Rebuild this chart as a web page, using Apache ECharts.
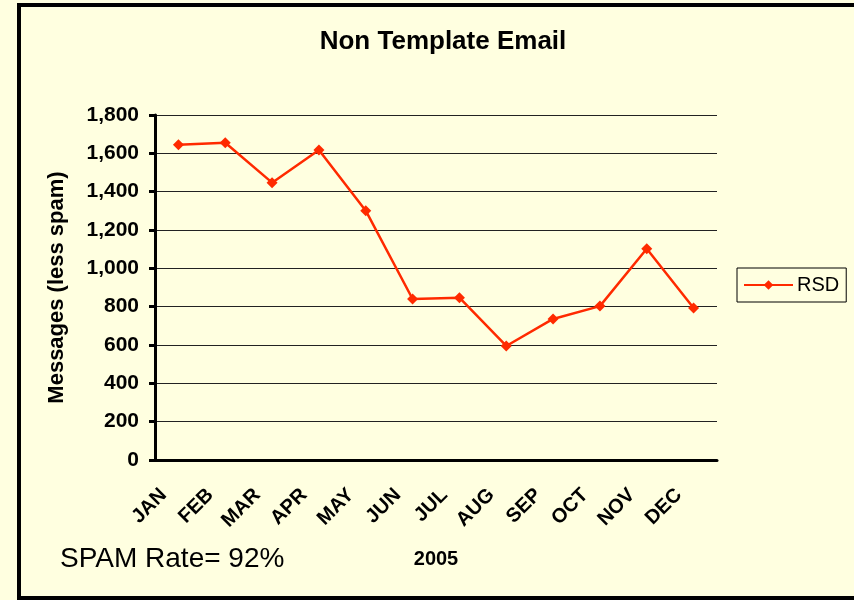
<!DOCTYPE html>
<html>
<head>
<meta charset="utf-8">
<script src="https://cdn.jsdelivr.net/npm/echarts@6/dist/echarts.min.js"></script>
<style>
  html, body { margin: 0; padding: 0; background: #FFFFE0; }
  #main { width: 854px; height: 600px; }
</style>
</head>
<body>
<div id="main"></div>
<script>
// 2005 monthly counts
var months = ['JAN', 'FEB', 'MAR', 'APR', 'MAY', 'JUN', 'JUL', 'AUG', 'SEP', 'OCT', 'NOV', 'DEC']
var rsd = [1645, 1655, 1447, 1617, 1301, 840, 847, 595, 736, 803, 1102, 793]

var chart = echarts.init(document.getElementById('main'))
chart.setOption({
  backgroundColor: '#FFFFE0',
  textStyle: { fontFamily: 'Liberation Sans, Arial, sans-serif' },
  title: {
    text: 'Non Template Email',
    left: 438,
    top: 24,
    textAlign: 'center',
    textStyle: { fontSize: 26, fontWeight: 'bold', color: '#000' }
  },
  legend: {
    left: 737,
    top: 268,
    orient: 'vertical',
    padding: [7, 7, 7, 6],
    borderColor: '#000',
    borderWidth: 1,
    itemWidth: 49,
    itemHeight: 12,
    itemGap: 4,
    textStyle: { fontSize: 20, color: '#000', padding: [0, 0, 0, -1] },
    data: ['RSD']
  },
  grid: {
    left: 155,
    right: 137,
    top: 115,
    bottom: 140
  },
  xAxis: {
    type: 'category',
    data: months,
    boundaryGap: true,
    name: '2005',
    nameLocation: 'middle',
    nameGap: 89,
    nameTextStyle: { fontSize: 20, fontWeight: 'bold', color: '#000' },
    axisLine: { lineStyle: { color: '#000', width: 3 } },
    axisTick: { length: 7, lineStyle: { color: '#000', width: 3 } },
    axisLabel: {
      rotate: 45,
      interval: 0,
      margin: 17,
      padding: [0, 21, 0, 0],
      fontSize: 20,
      fontWeight: 'bold',
      color: '#000'
    }
  },
  yAxis: {
    type: 'value',
    min: 0,
    max: 1800,
    interval: 200,
    name: 'Messages (less spam)',
    nameLocation: 'middle',
    nameGap: 87,
    nameTextStyle: { fontSize: 22, fontWeight: 'bold', color: '#000' },
    axisLine: { show: true, lineStyle: { color: '#000', width: 3 } },
    axisTick: { show: true, length: 6, lineStyle: { color: '#000', width: 3 } },
    axisLabel: {
      fontSize: 21,
      fontWeight: 'bold',
      color: '#000',
      margin: 16,
      formatter: function (v) { return v.toLocaleString('en-US') }
    },
    splitLine: { lineStyle: { color: '#222', width: 1 } }
  },
  graphic: [
    {
      type: 'rect',
      shape: { x: 19, y: 5, width: 850, height: 593 },
      style: { fill: 'none', stroke: '#000', lineWidth: 4 },
      silent: true
    },
    {
      type: 'text',
      left: 60,
      top: 545,
      style: { text: 'SPAM Rate= 92%', fontSize: 28, fill: '#000', fontFamily: 'Liberation Sans, Arial, sans-serif' }
    }
  ],
  series: [{
    name: 'RSD',
    type: 'line',
    data: rsd,
    symbol: 'diamond',
    symbolSize: 11,
    lineStyle: { color: '#FF2A00', width: 2.5 },
    itemStyle: { color: '#FF2A00' }
  }]
})
</script>
</body>
</html>
